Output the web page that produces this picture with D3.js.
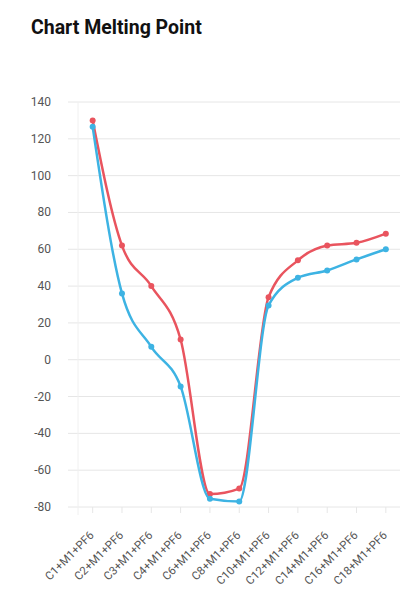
<!DOCTYPE html>
<html>
<head>
<meta charset="utf-8">
<script src="https://cdn.jsdelivr.net/npm/d3@7"></script>
<style>
body{margin:0;background:#fff;}
svg{display:block;font-family:Roboto,"Noto Sans",sans-serif;}
</style>
</head>
<body>
<div id="chart"></div>
<script>
// data
var categories = ["C1+M1+PF6","C2+M1+PF6","C3+M1+PF6","C4+M1+PF6","C6+M1+PF6","C8+M1+PF6",
    "C10+M1+PF6","C12+M1+PF6","C14+M1+PF6","C16+M1+PF6","C18+M1+PF6"];
var redValues = [130, 62, 40, 11, -73, -70, 34, 54, 62, 63.5, 68.5];
var blueValues = [126.5, 36, 7, -14.5, -75.5, -77, 29.5, 44.5, 48.5, 54.5, 60];
var yTicks = [-80,-60,-40,-20,0,20,40,60,80,100,120,140];

var W = 400, H = 612;
var svg = d3.select("#chart").append("svg")
    .attr("width", W)
    .attr("height", H);

svg.append("text")
    .attr("x", 31)
    .attr("y", 34)
    .attr("font-size", 19.5)
    .attr("font-weight", "bold")
    .attr("fill", "#111")
    .text("Chart Melting Point");

var x = d3.scaleBand().domain(categories).range([78, 400.5]);
var y = d3.scaleLinear().domain([-80, 140]).range([507, 102]);
var cx = function(d){ return x(d) + x.bandwidth()/2; };

// grid
svg.append("g").selectAll("line").data(yTicks).enter().append("line")
    .attr("x1", 68).attr("x2", 400)
    .attr("y1", function(d){ return y(d); })
    .attr("y2", function(d){ return y(d); })
    .attr("stroke", "#e6e6e6")
    .attr("stroke-width", 1);
svg.append("line")
    .attr("x1", 78).attr("x2", 78)
    .attr("y1", y(140)).attr("y2", y(-80) + 8)
    .attr("stroke", "#f0f0f0");
svg.append("g").selectAll("line").data(categories).enter().append("line")
    .attr("x1", cx).attr("x2", cx)
    .attr("y1", y(-80)).attr("y2", y(-80) + 6)
    .attr("stroke", "#e6e6e6");

// y labels
svg.append("g").selectAll("text").data(yTicks).enter().append("text")
    .attr("x", 51)
    .attr("y", function(d){ return y(d) + 4; })
    .attr("text-anchor", "end")
    .attr("font-size", 12)
    .attr("fill", "#555")
    .text(function(d){ return d; });

// x labels
svg.append("g").selectAll("text").data(categories).enter().append("text")
    .attr("transform", function(d){ return "translate(" + (cx(d) + 2) + "," + 536 + ") rotate(-45)"; })
    .attr("text-anchor", "end")
    .attr("font-size", 11.5)
    .attr("fill", "#555")
    .text(function(d){ return d; });

function drawSeries(vals, color){
    var line = d3.line()
        .x(function(d, i){ return cx(categories[i]); })
        .y(function(d){ return y(d); })
        .curve(d3.curveMonotoneX);
    svg.append("path")
        .attr("d", line(vals))
        .attr("fill", "none")
        .attr("stroke", color)
        .attr("stroke-width", 2.5);
    svg.append("g").selectAll("circle").data(vals).enter().append("circle")
        .attr("cx", function(d, i){ return cx(categories[i]); })
        .attr("cy", function(d){ return y(d); })
        .attr("r", 3)
        .attr("fill", color);
}
drawSeries(redValues, "#e9545e");
drawSeries(blueValues, "#3db3e3");
</script>
</body>
</html>
